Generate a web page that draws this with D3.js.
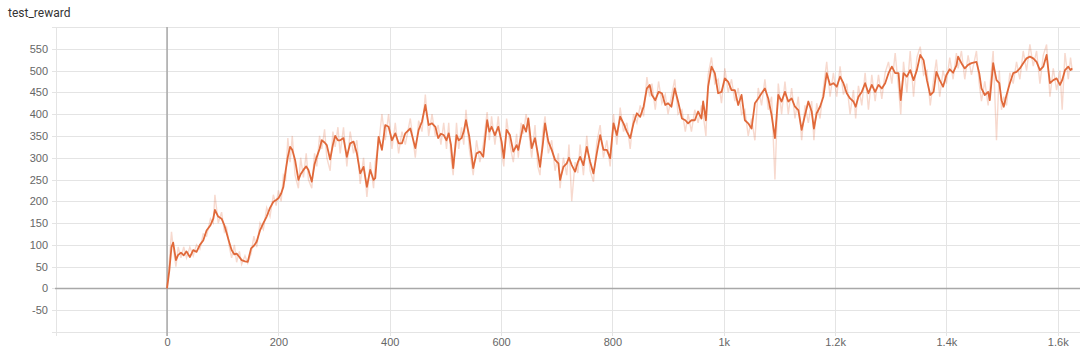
<!DOCTYPE HTML>
<html>
<head>
  <meta charset="utf-8">
  <style>
  body {
    margin: 0;
    background: #fff;
    font-family: Roboto, "Noto Sans", sans-serif;
  }
  .grid line {
    stroke: #e4e4e4;
    stroke-width: 1;
  }
  .axis text {
    fill: #666;
    font-size: 11px;
  }
  .axis path {
    display: none;
  }
  .axis line {
    stroke: #ddd;
  }
  </style>
  <script src="https://d3js.org/d3.v7.min.js"></script>
</head>
<body>
  <script type="text/javascript">
  var steps = [0,4,8,11,16,20,25,30,35,41,47,53,59,65,71,78,83,86,92,98,103,107,112,116,121,125,130,134,140,145,151,156,161,167,173,179,185,191,196,200,205,209,213,217,221,225,230,236,240,245,250,254,260,265,269,274,278,283,287,293,298,302,307,311,317,323,329,335,341,347,353,359,365,371,374,380,386,392,398,404,410,416,422,428,437,446,452,458,464,470,476,482,487,492,497,502,506,510,514,520,524,529,533,537,543,550,556,562,568,575,579,583,589,595,601,605,610,616,622,628,631,636,640,645,649,655,661,666,670,675,679,685,691,697,703,706,712,718,722,727,733,738,742,748,754,760,766,772,778,784,790,796,802,808,814,820,826,832,838,844,850,856,862,867,871,877,883,889,895,900,906,912,918,925,931,936,942,948,954,960,963,968,972,978,984,990,996,1002,1008,1014,1020,1026,1032,1038,1044,1050,1056,1062,1068,1074,1080,1086,1092,1098,1104,1110,1116,1122,1128,1134,1140,1146,1152,1158,1162,1167,1173,1179,1185,1191,1197,1203,1209,1215,1221,1227,1233,1237,1242,1248,1254,1260,1266,1272,1278,1284,1290,1296,1302,1308,1314,1318,1323,1329,1335,1341,1347,1353,1359,1365,1371,1377,1382,1388,1394,1400,1406,1412,1418,1421,1427,1433,1439,1445,1454,1459,1463,1469,1475,1478,1484,1490,1495,1499,1503,1508,1514,1520,1526,1532,1538,1544,1550,1556,1562,1568,1574,1580,1586,1592,1598,1604,1608,1613,1619,1623,1626];

  var smoothed = [0,40,95,105,65,77,82,76,85,72,88,84,100,110,133,145,160,180,165,160,145,127,105,88,78,80,72,65,62,61,92,98,107,133,150,165,185,199,203,207,218,233,270,302,325,318,295,249,262,272,280,272,245,285,302,320,340,335,329,296,330,350,340,340,345,302,333,337,310,264,279,233,272,249,253,348,318,375,371,340,356,333,333,356,367,322,364,383,421,375,379,371,345,355,352,340,356,330,276,352,340,345,360,386,348,276,310,314,302,386,360,371,352,371,337,299,364,352,314,329,318,350,375,360,390,322,345,310,279,330,379,337,318,295,287,249,279,287,300,283,268,290,302,283,325,291,264,310,352,318,318,299,379,352,394,379,360,345,379,402,394,417,459,467,444,432,451,448,421,425,417,459,429,390,386,379,386,386,406,390,429,386,463,509,494,448,451,482,474,455,455,421,444,386,379,367,425,436,448,459,436,398,345,444,429,451,429,436,417,409,364,398,429,406,367,402,417,440,494,467,471,463,486,471,448,436,429,417,440,451,471,448,467,451,467,459,471,494,509,494,494,432,494,486,501,478,501,536,524,478,444,451,497,478,463,490,503,495,512,532,517,505,513,517,520,494,459,444,451,432,517,478,471,432,417,444,471,494,497,505,517,528,532,528,520,501,509,536,471,478,482,467,478,501,509,501,505];

  var raw = [0,60,130,95,50,95,70,95,70,95,75,100,90,125,120,160,150,215,150,175,130,140,95,70,100,60,85,55,75,58,80,120,95,150,135,185,165,215,190,225,200,260,250,345,290,350,260,230,300,255,310,250,230,310,280,350,320,365,300,270,360,325,370,310,370,280,360,310,340,240,300,210,290,230,290,330,400,340,400,320,380,310,360,330,390,300,385,360,445,350,400,350,375,330,380,320,380,300,260,380,320,370,330,410,320,260,340,290,330,405,340,395,330,395,310,280,390,330,290,355,300,380,355,400,370,300,375,280,260,360,395,310,340,270,310,230,300,260,330,200,290,265,330,260,350,270,245,335,375,300,340,280,400,330,415,360,380,320,400,380,420,395,485,440,470,410,475,425,445,400,440,480,400,410,360,400,360,410,380,420,400,350,490,530,470,480,425,505,450,480,430,460,400,410,350,390,340,460,420,480,410,440,250,470,400,475,400,460,390,440,340,420,380,430,340,425,390,460,520,440,495,440,510,445,470,400,455,390,465,420,495,410,490,430,490,435,495,520,470,540,460,400,520,450,545,440,530,555,490,500,420,480,525,440,500,470,530,480,540,505,545,480,535,490,545,470,430,475,420,460,545,340,500,410,440,420,495,470,520,480,545,500,560,510,545,470,535,560,440,505,455,500,410,540,480,530,500];

  var xTicks = [-200,0,200,400,600,800,1000,1200,1400,1600];
  var yTicks = [-100,-50,0,50,100,150,200,250,300,350,400,450,500,550,600];
  var title = 'test_reward';

  function draw() {
    'use strict';
    var width = 1080, height = 350;
    var lineColor = '#e0693a';

    var svg = d3.select('body')
                .append('svg')
                .attr('width', width)
                .attr('height', height);

    svg.append('text')
       .attr('x', 8)
       .attr('y', 17)
       .attr('fill', '#333')
       .style('font-size', '12px')
       .text(title);

    var x_scale = d3.scaleLinear()
                    .domain([-200, 1640])
                    .range([55.7, 1080]);
    var y_scale = d3.scaleLinear()
                    .domain([-100, 600])
                    .range([332, 27]);

    // grid
    var grid = svg.append('g').attr('class', 'grid');
    grid.selectAll('.h')
        .data(yTicks)
        .enter()
        .append('line')
        .attr('x1', 52)
        .attr('x2', width)
        .attr('y1', function(d) { return Math.round(y_scale(d)) + 0.5; })
        .attr('y2', function(d) { return Math.round(y_scale(d)) + 0.5; });
    grid.selectAll('.v')
        .data(xTicks)
        .enter()
        .append('line')
        .attr('x1', function(d) { return Math.round(x_scale(d)) + 0.5; })
        .attr('x2', function(d) { return Math.round(x_scale(d)) + 0.5; })
        .attr('y1', 27)
        .attr('y2', 336);

    // zero lines
    svg.append('line')
       .attr('x1', 55).attr('x2', width)
       .attr('y1', y_scale(0)).attr('y2', y_scale(0))
       .attr('stroke', '#a8a8a8').attr('stroke-width', 1.5);
    svg.append('line')
       .attr('x1', x_scale(0)).attr('x2', x_scale(0))
       .attr('y1', 27).attr('y2', 336)
       .attr('stroke', '#a8a8a8').attr('stroke-width', 1.5);

    //draw axes labels

    var x_axis = d3.axisBottom(x_scale)
                   .tickValues(xTicks.filter(function(d) { return d >= 0; }))
                   .tickSize(0)
                   .tickPadding(6)
                   .tickFormat(d3.format('~s'));
    var y_axis = d3.axisLeft(y_scale)
                   .tickValues(yTicks.filter(function(d) { return d > -100 && d < 600; }))
                   .tickSize(0)
                   .tickPadding(7)
                   .tickFormat(function(d) { return String(d); });

    svg.append('g')
       .attr('class', 'x axis')
       .attr('transform', 'translate(0,332)')
       .call(x_axis);
    svg.append('g')
       .attr('class', 'y axis')
       .attr('transform', 'translate(55,0)')
       .call(y_axis);

    var line = d3.line()
                 .x(function(d) { return x_scale(d[0]); })
                 .y(function(d) { return y_scale(d[1]); });

    svg.append('path')
       .datum(steps.map(function(s, i) { return [s, raw[i]]; }))
       .attr('fill', 'none')
       .attr('stroke', lineColor)
       .attr('stroke-opacity', 0.25)
       .attr('stroke-width', 1.4)
       .attr('d', line);

    svg.append('path')
       .datum(steps.map(function(s, i) { return [s, smoothed[i]]; }))
       .attr('fill', 'none')
       .attr('stroke', lineColor)
       .attr('stroke-width', 1.8)
       .attr('stroke-linejoin', 'round')
       .attr('d', line);
  }
  draw();
  </script>
</body>
</html>
